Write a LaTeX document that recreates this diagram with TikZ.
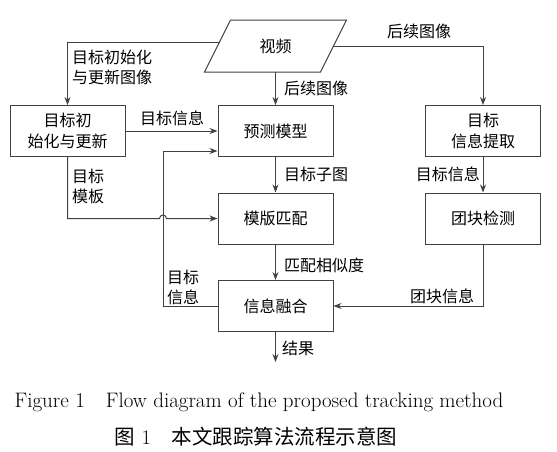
\documentclass[tikz,border=0pt]{standalone}
\usepackage{fontspec}
\usepackage{tikz}
\usetikzlibrary{positioning,arrows.meta}
\newfontfamily\cjk{Noto Sans CJK SC}
\definecolor{linegray}{rgb}{0.25,0.25,0.25}
\tikzset{
  block/.style={draw=linegray, rectangle, line width=1pt, minimum width=115pt, minimum height=51pt, align=center, font=\cjk\fontsize{16}{21}\selectfont},
  lbl/.style={align=left, inner sep=0pt, font=\cjk\fontsize{16}{20}\selectfont},
  flow/.style={->, >={Stealth[length=8pt, width=6pt]}, line width=1pt, linegray},
}

\begin{document}
\begin{tikzpicture}[x=1pt, y=-1pt, node distance=87.5pt]
	\useasboundingbox (0,0) rectangle (557,451);
	
	\node[block] (pred) at (275.5,131) {预测模型};
	\node[block, below of=pred] (tmpl) {模版匹配};
	\node[block, below of=tmpl] (fuse) {信息融合};
	\node[block, left of=pred, node distance=208pt] (tinit) {目标初\\始化与更新};
	\node[block, right of=pred, node distance=207.5pt] (extr) {目标\\信息提取};
	\node[block, below of=extr] (blob) {团块检测};
	\node[block, draw=none, above of=pred, node distance=85pt] (vid) {视频};
	\draw[linegray, line width=1pt] ([xshift=13pt]vid.north west) -- ([xshift=13pt]vid.north east) -- ([xshift=-13pt]vid.south east) -- ([xshift=-13pt]vid.south west) -- cycle;
	
	\coordinate[below of=fuse, node distance=56pt] (res);
	\coordinate[left of=fuse, node distance=112.5pt] (fbc);
	\coordinate (cross) at (fbc |- tmpl.west);
	
	\draw[flow] (vid) -- (pred);
	\draw[flow] ([xshift=2pt, yshift=4pt]vid.west) -| (tinit);
	\draw[flow] (vid.east) -| (extr);
	\draw[flow] (tinit) -- (pred);
	\draw[flow] (pred) -- (tmpl);
	\draw[flow] (tmpl) -- (fuse);
	\draw[flow] (extr) -- (blob);
	\draw[flow] (blob) |- (fuse);
	\draw[flow] (fuse) -- (res);
	\draw[flow] (fuse.west) -- (fbc) |- ([yshift=-20pt]pred.west);
	\draw[flow] (tinit) |- ([xshift=-3.5pt]cross) arc (180:0:3.5pt) -- (tmpl.west);
	
	\node[lbl, anchor=west] (lInit) at (72,67) {目标初始化\\与更新图像};
	\node[lbl] (lNext1) at (419,31) {后续图像};
	\node[lbl, anchor=west] (lNext2) at (284,88) {后续图像};
	\node[lbl] (lInfo1) at (172,118) {目标信息};
	\node[lbl, anchor=east] (lInfo2) at (480,174) {目标信息};
	\node[lbl, anchor=west] (lSub) at (284,174) {目标子图};
	\node[lbl, anchor=west] (lTpl) at (72,186) {目标\\模板};
	\node[lbl, anchor=west] (lSim) at (284,265) {匹配相似度};
	\node[lbl, anchor=west] (lInfo3) at (167,287) {目标\\信息};
	\node[lbl] (lBlob) at (442,296) {团块信息};
	\node[lbl, anchor=west] (lRes) at (282,348) {结果};
	
	\node[font=\fontsize{21}{24}\selectfont] (capEn) at (259,402) {Figure 1\quad Flow diagram of the proposed tracking method};
	\node[font=\fontsize{20.5}{24}\selectfont] (capZh) at (256,437) {{\cjk 图} 1\quad {\cjk 本文跟踪算法流程示意图}};
\end{tikzpicture}
\end{document}
